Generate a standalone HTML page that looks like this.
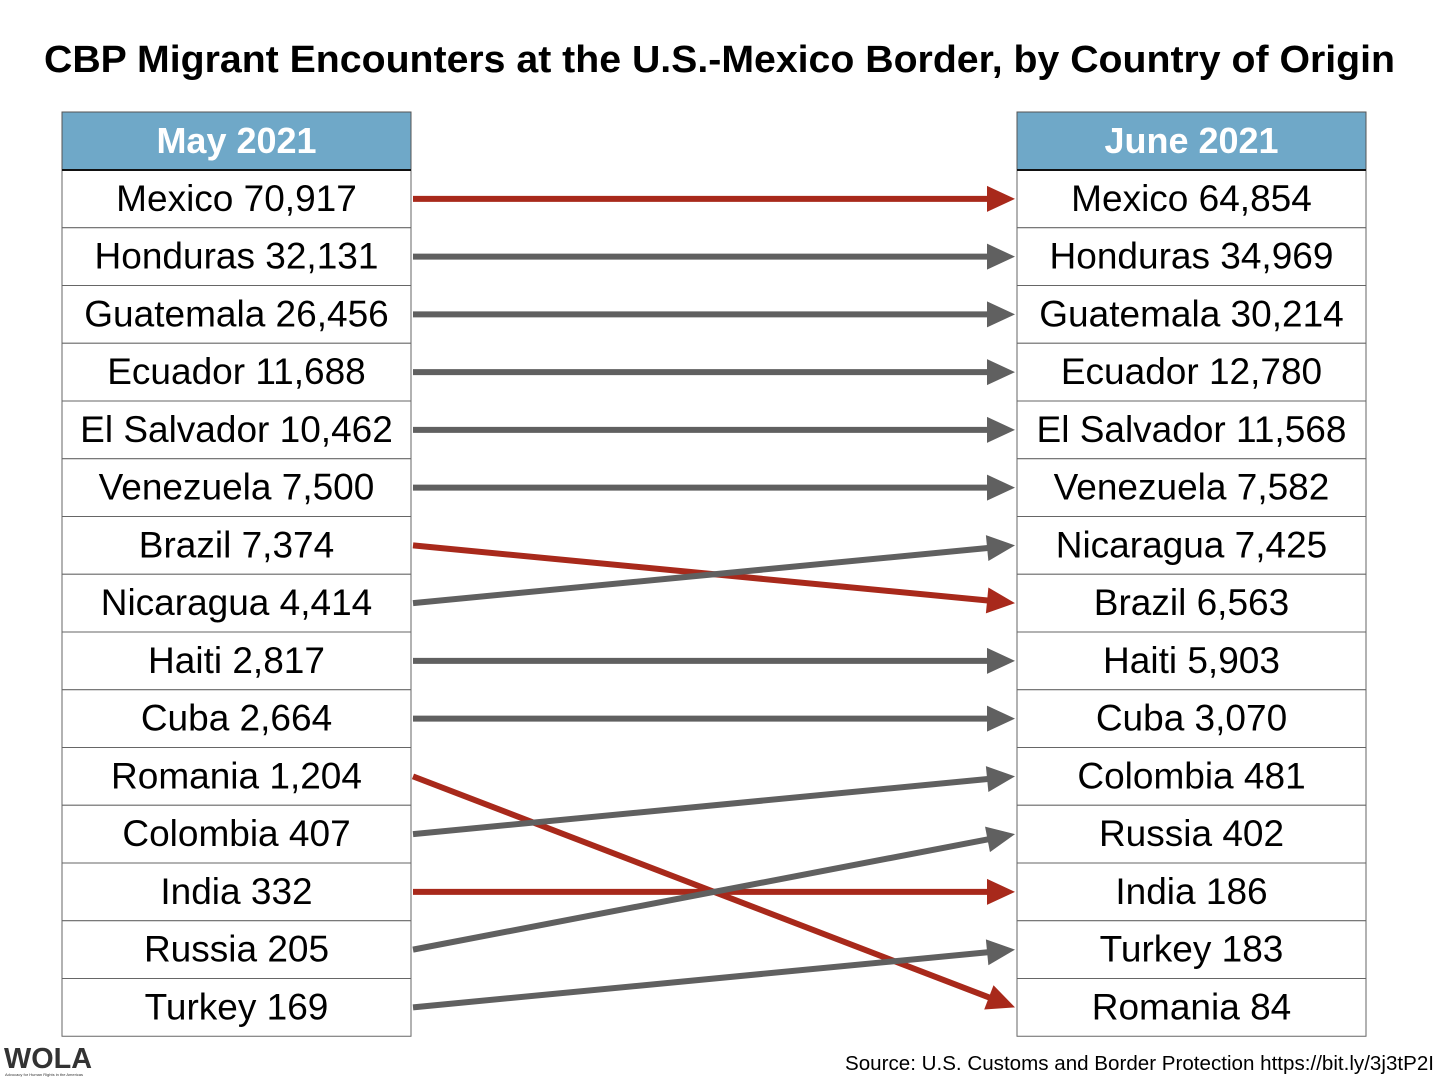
<!DOCTYPE html>
<html><head><meta charset="utf-8"><style>
body{margin:0;background:#fff;}
svg{display:block;font-family:"Liberation Sans",sans-serif;}
</style></head><body>
<svg id="chart" width="1440" height="1080" viewBox="0 0 1440 1080">
<text x="44" y="72" textLength="1351" lengthAdjust="spacingAndGlyphs" font-size="38" font-weight="bold" fill="#000">CBP Migrant Encounters at the U.S.-Mexico Border, by Country of Origin</text>
<g id="tables"></g>
<g id="arrows"></g>
<g>
<text x="4" y="1068" font-size="29" font-weight="bold" fill="#333" textLength="88" lengthAdjust="spacingAndGlyphs">WOLA</text>
<text x="5" y="1076" font-size="4" fill="#333">Advocacy for Human Rights in the Americas</text>
</g>
<text x="1434" y="1070" text-anchor="end" font-size="20" textLength="589" lengthAdjust="spacingAndGlyphs" fill="#000">Source: U.S. Customs and Border Protection https://bit.ly/3j3tP2I</text>
</svg>
<script>
const mayCountries=["Mexico","Honduras","Guatemala","Ecuador","El Salvador","Venezuela","Brazil","Nicaragua","Haiti","Cuba","Romania","Colombia","India","Russia","Turkey"];
const mayValues=[70917,32131,26456,11688,10462,7500,7374,4414,2817,2664,1204,407,332,205,169];
const juneCountries=["Mexico","Honduras","Guatemala","Ecuador","El Salvador","Venezuela","Nicaragua","Brazil","Haiti","Cuba","Colombia","Russia","India","Turkey","Romania"];
const juneValues=[64854,34969,30214,12780,11568,7582,7425,6563,5903,3070,481,402,186,183,84];
const headers=["May 2021","June 2021"];

const NS="http://www.w3.org/2000/svg";
const top0=170,rowH=57.75,colW=349,leftX=62,rightX=1017;
function rowY(i){return top0+rowH*i;}
function rowC(i){return rowY(i)+rowH/2;}
function mk(t,a,p){const e=document.createElementNS(NS,t);for(const k in a)e.setAttribute(k,a[k]);p.appendChild(e);return e;}
const tg=document.getElementById('tables');
function table(x,countries,values,hdr,key){
  const g=mk('g',{},tg);
  
  
  const h=mk('rect',{x:x,y:112,width:colW,height:58,fill:'#6fa8c8',stroke:'#555','stroke-width':1},g);
  
  
  const ht=mk('text',{x:x+colW/2,y:153,'text-anchor':'middle','font-size':36,'font-weight':'bold',fill:'#fff'},g);
  ht.textContent=hdr;
  
  
  countries.forEach((c,i)=>{
    const r=mk('rect',{x:x,y:rowY(i),width:colW,height:rowH,fill:'#fff',stroke:'#666','stroke-width':1},g);
    
    
    const t=mk('text',{x:x+colW/2,y:rowC(i)+12,'text-anchor':'middle','font-size':37,fill:'#000'},g);
    t.textContent=c+' '+values[i].toLocaleString('en-US');
    
    
  });
  mk('line',{x1:x,y1:170,x2:x+colW,y2:170,stroke:'#111','stroke-width':2},g);
}
table(leftX,mayCountries,mayValues,headers[0],'may');
table(rightX,juneCountries,juneValues,headers[1],'june');
const ag=document.getElementById('arrows');
mayCountries.forEach((c,i)=>{
  const j=juneCountries.indexOf(c);
  const col=juneValues[j]<mayValues[i]?'#a8291b':'#606060';
  const x1=413,y1=rowC(i),x2=1015,y2=rowC(j);
  const dx=x2-x1,dy=y2-y1,L=Math.hypot(dx,dy),ux=dx/L,uy=dy/L;
  const hl=28,hw=13;
  const bx=x2-ux*hl,by=y2-uy*hl;
  const g=mk('g',{},ag);
  
  
  mk('line',{x1:x1,y1:y1,x2:bx+ux*2,y2:by+uy*2,stroke:col,'stroke-width':6},g);
  mk('polygon',{points:`${x2},${y2} ${bx-uy*hw},${by+ux*hw} ${bx+uy*hw},${by-ux*hw}`,fill:col},g);
});
</script>
</body></html>
